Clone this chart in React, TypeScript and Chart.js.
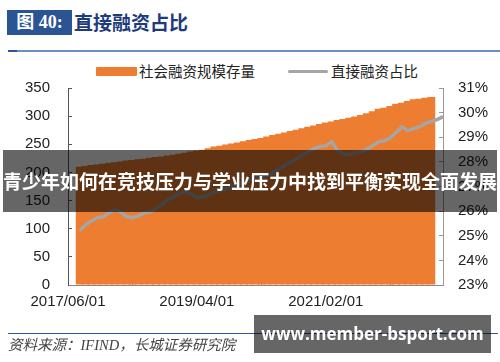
import React, { useEffect, useRef } from "react";
import { Chart, registerables } from "chart.js";

Chart.register(...registerables);

// Monthly categories (axis runs 2017/06 .. 2022/10)
const categories: string[] = [
  "2017/06/01", "2017/07/01", "2017/08/01", "2017/09/01", "2017/10/01", "2017/11/01", "2017/12/01",
  "2018/01/01", "2018/02/01", "2018/03/01", "2018/04/01", "2018/05/01", "2018/06/01", "2018/07/01",
  "2018/08/01", "2018/09/01", "2018/10/01", "2018/11/01", "2018/12/01", "2019/01/01", "2019/02/01",
  "2019/03/01", "2019/04/01", "2019/05/01", "2019/06/01", "2019/07/01", "2019/08/01", "2019/09/01",
  "2019/10/01", "2019/11/01", "2019/12/01", "2020/01/01", "2020/02/01", "2020/03/01", "2020/04/01",
  "2020/05/01", "2020/06/01", "2020/07/01", "2020/08/01", "2020/09/01", "2020/10/01", "2020/11/01",
  "2020/12/01", "2021/01/01", "2021/02/01", "2021/03/01", "2021/04/01", "2021/05/01", "2021/06/01",
  "2021/07/01", "2021/08/01", "2021/09/01", "2021/10/01", "2021/11/01", "2021/12/01", "2022/01/01",
  "2022/02/01", "2022/03/01", "2022/04/01", "2022/05/01", "2022/06/01", "2022/07/01", "2022/08/01",
  "2022/09/01", "2022/10/01",
];

// 社会融资规模存量 (万亿元)
const stockValues: (number | null)[] = [
  null, null, 210, 211.5, 213, 214, 215.5, 217, 218, 219.5, 221, 222, 223.5, 224.5, 226, 227.5,
  228.5, 230, 231.5, 233, 235, 237, 239, 240.5, 243, 246, 247.5, 249.5, 251.5, 253, 255.5, 257.5,
  259.5, 261, 264, 266.5, 268.5, 271, 273.5, 276, 278.5, 281, 283.5, 286, 288.5, 290.5, 293, 295,
  297, 299.5, 302, 305, 308.5, 313, 315, 318, 322, 324, 327, 330, 331, 332.5, 334, null, null,
];

// 直接融资占比 (%)
const shareValues: (number | null)[] = [
  null, null, 25.2, 25.44, 25.6, 25.73, 25.77, 25.93, 26.05, 25.97, 25.77, 25.73, 25.81, 25.93,
  25.97, 26.09, 26.26, 26.46, 26.58, 26.71, 26.79, 26.71, 26.54, 26.58, 26.66, 26.79, 26.83, 26.91,
  26.99, 27.07, 27.15, 27.28, 27.32, 27.4, 27.44, 27.56, 27.72, 27.85, 27.97, 28.13, 28.29, 28.41,
  28.54, 28.62, 28.66, 28.82, 28.46, 28.33, 28.29, 28.37, 28.41, 28.5, 28.66, 28.82, 28.86, 28.98,
  29.19, 29.43, 29.27, 29.35, 29.43, 29.56, 29.64, 29.72, 29.84,
];

const xTickLabels: string[] = ["2017/06/01", "2019/04/01", "2021/02/01"];

const seriesNames: string[] = ["社会融资规模存量", "直接融资占比"];
const titleLabel = "图 40:";
const titleText = "直接融资占比";
const sourceText = "资料来源：IFIND，长城证券研究院";
const bannerText = "青少年如何在竞技压力与学业压力中找到平衡实现全面发展";
const watermarkText = "www.member-bsport.com";

const ORANGE = "#ED7D31";
const GREY = "#A5A5A5";
const TICK_FONT = { family: "'Liberation Sans', Arial, sans-serif", size: 15 };

export default function App() {
  const canvasRef = useRef<HTMLCanvasElement | null>(null);

  useEffect(() => {
    const canvas = canvasRef.current;
    if (!canvas) return;
    const chart = new Chart(canvas, {
      type: "bar",
      data: {
        labels: categories,
        datasets: [
          {
            type: "line",
            label: seriesNames[1],
            data: shareValues,
            yAxisID: "y1",
            borderColor: GREY,
            backgroundColor: GREY,
            borderWidth: 3.5,
            pointRadius: 0,
            tension: 0,
            order: 0,
          },
          {
            type: "bar",
            label: seriesNames[0],
            data: stockValues,
            yAxisID: "y",
            backgroundColor: ORANGE,
            borderWidth: 0,
            inflateAmount: 0,
            barPercentage: 1.35,
            categoryPercentage: 1,
            order: 1,
          },
        ],
      },
      options: {
        responsive: false,
        maintainAspectRatio: false,
        animation: false,
        layout: { padding: { top: 88, bottom: 37, left: 0, right: 0 } },
        plugins: { legend: { display: false }, tooltip: { enabled: false } },
        scales: {
          x: {
            type: "category",
            offset: false,
            afterBuildTicks: (scale: any) => {
              scale.ticks = scale.ticks.filter((t: any) =>
                xTickLabels.includes(categories[t.value])
              );
            },
            afterFit: (scale: any) => {
              scale.height = 40;
            },
            ticks: {
              autoSkip: false,
              maxRotation: 0,
              minRotation: 0,
              padding: 13,
              color: "#222",
              font: TICK_FONT,
              callback: (v: any) => categories[v as number],
            },
            grid: { drawOnChartArea: false, drawTicks: true, tickLength: -5, color: "#777" },
            border: { display: true, color: "#888", width: 1 },
          },
          y: {
            position: "left",
            min: 0,
            max: 350,
            afterFit: (scale: any) => {
              scale.width = 68;
            },
            ticks: { stepSize: 50, padding: 22, color: "#222", font: TICK_FONT },
            grid: { drawOnChartArea: false, drawTicks: true, tickLength: -4, color: "#555" },
            border: { display: true, color: "#555", width: 1 },
          },
          y1: {
            position: "right",
            min: 23,
            max: 31,
            afterFit: (scale: any) => {
              scale.width = 57;
            },
            ticks: {
              stepSize: 1,
              padding: 19,
              color: "#222",
              font: TICK_FONT,
              callback: (v: any) => `${v}%`,
            },
            grid: { drawOnChartArea: false, drawTicks: true, tickLength: -4, color: "#999" },
            border: { display: true, color: "#999", width: 1 },
          },
        },
      },
    } as any);
    return () => chart.destroy();
  }, []);

  const cjk = "'Noto Sans CJK SC', sans-serif";

  return (
    <div style={{ position: "absolute", left: 0, top: 0, width: 500, height: 362, background: "#fff", overflow: "hidden" }}>
      {/* title */}
      <div
        style={{
          position: "absolute", left: 7, top: 10, width: 65, height: 25, background: "#2A5494",
          color: "#fff", fontFamily: `'Liberation Serif', ${cjk}`, fontWeight: 700, fontSize: 18,
          lineHeight: "25px", textAlign: "center", whiteSpace: "nowrap",
        }}
      >
        {titleLabel}
      </div>
      <div
        style={{
          position: "absolute", left: 74, top: 8, height: 28, color: "#1E3C7C", fontFamily: cjk,
          fontWeight: 700, fontSize: 19, lineHeight: "28px", whiteSpace: "nowrap",
        }}
      >
        {titleText}
      </div>
      <div style={{ position: "absolute", left: 8, top: 50, width: 492, height: 1.5, background: "#6D8FC6" }} />
      <div style={{ position: "absolute", left: 8, top: 49.5, width: 9, height: 2.5, background: "#2F5597" }} />

      {/* legend */}
      <div style={{ position: "absolute", left: 96, top: 67, width: 41, height: 9, background: ORANGE, borderRadius: 1 }} />
      <div
        style={{
          position: "absolute", left: 139, top: 61, height: 20, lineHeight: "20px", fontSize: 14.5,
          fontFamily: cjk, color: "#222", whiteSpace: "nowrap",
        }}
      >
        {seriesNames[0]}
      </div>
      <div style={{ position: "absolute", left: 288, top: 69.5, width: 40, height: 3.5, background: GREY, borderRadius: 2 }} />
      <div
        style={{
          position: "absolute", left: 331, top: 61, height: 20, lineHeight: "20px", fontSize: 14.5,
          fontFamily: cjk, color: "#222", whiteSpace: "nowrap",
        }}
      >
        {seriesNames[1]}
      </div>

      <canvas ref={canvasRef} width={500} height={362} style={{ position: "absolute", left: 0, top: 0, width: 500, height: 362 }} />

      {/* source */}
      <div style={{ position: "absolute", left: 8, top: 332.5, width: 490, height: 1.5, background: "#2F5597" }} />
      <div
        style={{
          position: "absolute", left: 8, top: 336, height: 18, lineHeight: "18px", fontSize: 14.5,
          fontFamily: `'Liberation Serif', ${cjk}`, fontStyle: "italic", color: "#444", whiteSpace: "nowrap",
        }}
      >
        {sourceText}
      </div>

      {/* banner overlay */}
      <div
        style={{
          position: "absolute", left: 3, top: 150, width: 494, height: 62, background: "rgba(0,0,0,0.6)",
          color: "#fff", fontFamily: cjk, fontWeight: 700, fontSize: 19, lineHeight: "62px",
          textAlign: "center", whiteSpace: "nowrap",
        }}
      >
        {bannerText}
      </div>

      {/* watermark */}
      <div
        style={{
          position: "absolute", left: 254, top: 315, width: 237, height: 38, background: "rgba(0,0,0,0.6)",
          color: "#fff", fontFamily: "'Open Sans', 'Noto Sans', sans-serif", fontWeight: 700, fontSize: 17,
          lineHeight: "38px", textAlign: "center", whiteSpace: "nowrap",
        }}
      >
        {watermarkText}
      </div>
    </div>
  );
}
